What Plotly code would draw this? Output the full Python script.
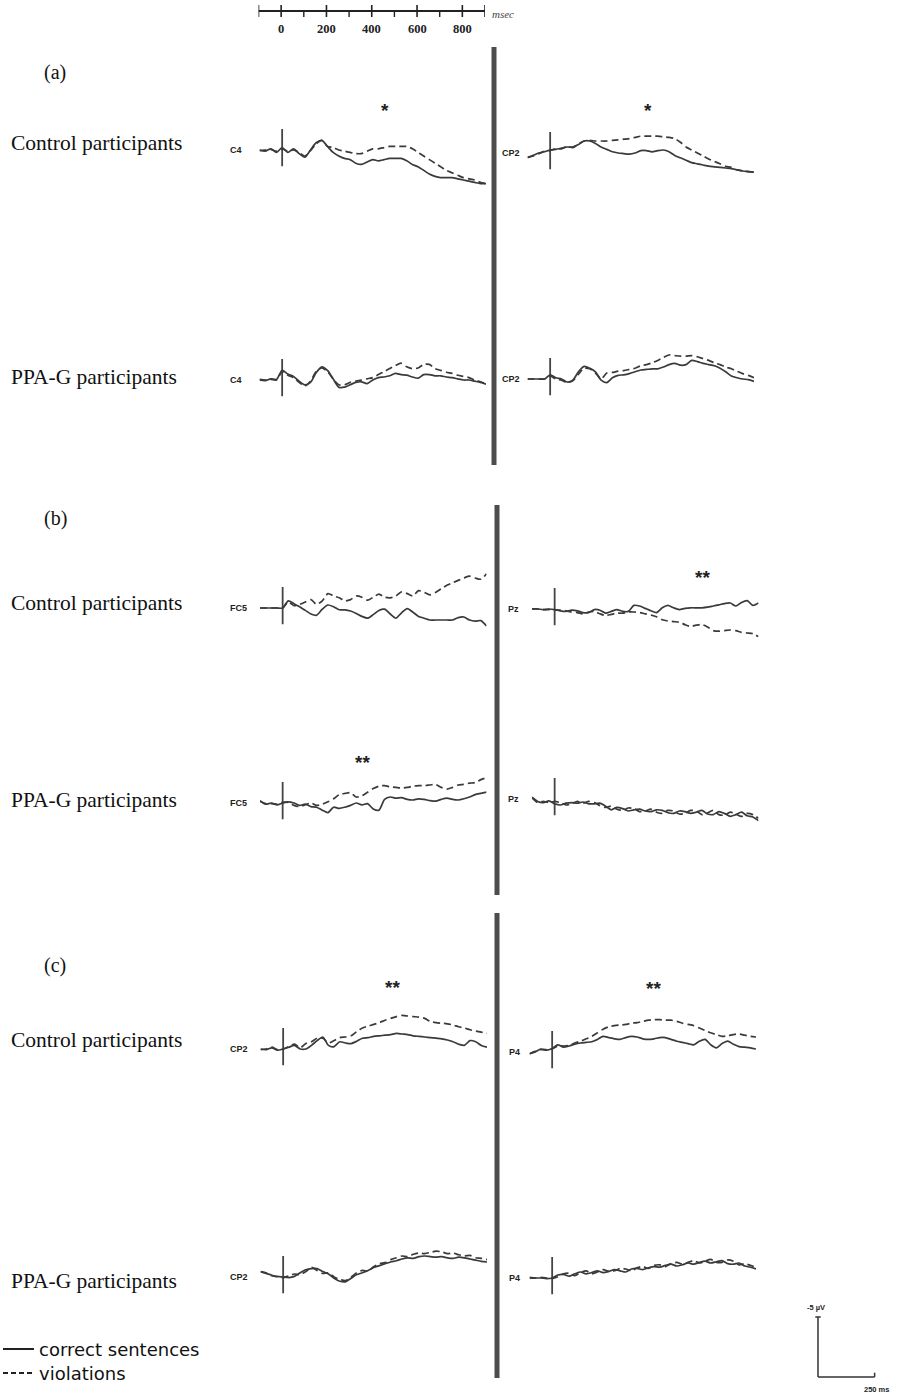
import plotly.graph_objects as go

W, H = 924, 1396

# ---------------- data (µV, negative plotted upward) ----------------
TIME_MS = list(range(-100, 901, 25))

A_C4_CTRL_COR = [0, 0.1, -0.1, 0.2, -0.2, 0.2, -0.1, 0.3, 0.6, 0, -0.6, -0.8, -0.3, 0.2, 0.5, 0.7, 0.8, 1.1, 1.2, 1.0,
                 0.8, 0.9, 0.8, 0.7, 0.7, 0.7, 0.9, 1.2, 1.4, 1.7, 2.0, 2.2, 2.3, 2.3, 2.3, 2.4, 2.5, 2.6, 2.7, 2.8, 2.8]
A_C4_CTRL_VIO = [0.05, 0.0, -0.05, 0.1, -0.1, 0.1, 0.0, 0.2, 0.5, 0.05, -0.5, -0.8,
                 -0.3, -0.2, 0, 0.1, 0.2, 0.3, 0.3, 0.1, -0.1, -0.1, -0.2, -0.3, -0.3, -0.3, -0.3, -0.1, 0.2, 0.5,
                 0.8, 1.1, 1.4, 1.7, 1.9, 2.1, 2.3, 2.4, 2.5, 2.7, 2.8]
A_CP2_CTRL_COR = [0.4, 0.2, 0.0, -0.1, -0.25, -0.3, -0.4, -0.5, -0.5, -0.7, -1.0, -1.0, -0.8, -0.5, -0.3, -0.1, 0.0,
                  0.05, 0.1, 0.0, -0.2, -0.2, -0.1, -0.2, -0.25, -0.1, 0.2, 0.4, 0.6, 0.8, 0.9, 1.0, 1.1, 1.15, 1.2,
                  1.25, 1.3, 1.4, 1.5, 1.55, 1.6]
A_CP2_CTRL_VIO = [0.35, 0.25, 0.05, -0.15, -0.2, -0.35, -0.35, -0.55, -0.45, -0.75, -1.0, -1.05,
                  -1.0, -1.0, -1.0, -1.05, -1.1, -1.15, -1.2, -1.3, -1.4, -1.4, -1.4, -1.4, -1.35, -1.3, -1.2, -0.9,
                  -0.5, -0.25, 0.0, 0.25, 0.5, 0.7, 0.9, 1.1, 1.2, 1.4, 1.5, 1.55, 1.6]
A_C4_PPA_COR = [0.0, 0.05, -0.1, -0.05, -0.8, -0.5, -0.3, 0.1, 0.4, 0.2, -0.6, -1.1, -0.8, -0.1, 0.6, 0.6, 0.4, 0.2,
                0.15, 0.3, 0.0, -0.2, -0.25, -0.35, -0.55, -0.45, -0.4, -0.25, -0.15, -0.45, -0.45, -0.35, -0.35,
                -0.25, -0.2, -0.1, 0.0, 0.0, 0.1, 0.2, 0.35]
A_C4_PPA_VIO = [-0.05, 0.0, -0.05, 0.0, -0.7, -0.4, -0.2, 0.2, 0.5, 0.1, -0.7, -1.0, -0.7,
                -0.1, 0.4, 0.4, 0.2, 0.1, 0.0, -0.1, -0.2, -0.45, -0.7, -0.95, -1.2, -1.4, -1.1, -0.95, -1.0, -1.3,
                -1.3, -0.95, -0.8, -0.65, -0.55, -0.4, -0.3, -0.2, 0.0, 0.15, 0.3]
A_CP2_PPA_COR = [0, 0, 0, 0, -0.35, -0.1, 0.0, 0.25, 0.1, -0.6, -1.05, -0.9, -0.6, 0.1, 0.3, -0.1, -0.3, -0.35,
                 -0.45, -0.6, -0.75, -0.8, -0.85, -0.85, -1.0, -1.2, -1.3, -1.15, -1.2, -1.55, -1.45, -1.3, -1.2,
                 -1.1, -0.9, -0.6, -0.25, -0.1, 0.0, 0.05, 0.2]
A_CP2_PPA_VIO = [0.0, 0.0, 0.0, 0.0, -0.25, 0.0, 0.1, 0.3, 0.15,
                 -0.4, -0.9, -0.85, -0.5, 0.0, -0.5, -0.55, -0.65, -0.7, -0.8, -0.9, -1.1, -1.2, -1.35, -1.55, -1.8,
                 -2.0, -1.95, -1.9, -1.9, -1.95, -1.85, -1.7, -1.55, -1.35, -1.2, -1.0, -0.85, -0.65, -0.45, -0.3, -0.1]

B_FC5_CTRL_COR = [0, 0, 0, 0, 0, -0.6, -0.35, -0.1, 0.2, 0.5, 0.6, 0.1, -0.25, -0.1, 0.15, 0.15, 0.25, 0.45, 0.7,
                  0.85, 0.55, 0.2, 0.1, 0.5, 0.85, 0.4, 0.05, 0.35, 0.7, 0.85, 1.0, 1.0, 1.0, 1.0, 1.0, 0.8, 0.75,
                  1.0, 1.1, 1.05, 1.5]
B_FC5_CTRL_VIO = [0, 0, 0, 0, 0, -0.5, -0.2,
                  -0.3, -0.5, -0.7, -0.3, -0.6, -1.2, -1.0, -0.85, -0.6, -0.7, -1.0, -0.9, -0.65, -0.9, -1.15, -0.9,
                  -0.85, -1.0, -1.35, -1.2, -1.0, -1.45, -1.3, -1.1, -1.3, -1.6, -1.9, -2.1, -2.3, -2.5, -2.65, -2.5,
                  -2.4, -2.85]
B_PZ_CTRL_COR = [0, 0, 0.05, 0, 0.05, 0.15, 0.2, 0.1, 0.15, 0.3, 0.3, 0.05, 0.1, 0.35, 0.2, 0.05, 0.2, 0.2, -0.3,
                 -0.25, -0.05, 0.15, 0.3, -0.1, -0.3, -0.1, 0.05, -0.05, -0.1, -0.1, -0.1, -0.15, -0.25, -0.35,
                 -0.45, -0.5, -0.25, -0.55, -0.7, -0.3, -0.5]
B_PZ_CTRL_VIO = [0.0, 0.0, 0.05,
                 0.05, 0.1, 0.1, 0.15, 0.25, 0.3, 0.4, 0.25, 0.2, 0.4, 0.55, 0.45, 0.35, 0.35, 0.25, 0.25, 0.3, 0.4,
                 0.5, 0.65, 0.9, 1.0, 1.05, 1.1, 1.3, 1.45, 1.35, 1.3, 1.5, 1.8, 1.85, 1.8, 1.75, 1.8, 1.95, 2.0,
                 2.05, 2.3]
B_FC5_PPA_COR = [-0.2, 0.1, 0.0, 0.15, 0.0, -0.1, 0.0, 0.2, 0.1, 0.3, 0.35, 0.6, 0.8, 0.35, 0.45, 0.35, 0.2, 0.0,
                 0.15, 0.05, 0.5, 0.6, -0.3, -0.5, -0.4, -0.45, -0.3, -0.25, -0.35, -0.3, -0.2, -0.15, -0.3, -0.4,
                 -0.3, -0.25, -0.35, -0.5, -0.7, -0.8, -0.9]
B_FC5_PPA_VIO = [-0.15, 0.05, 0.05, 0.1, -0.05, -0.05,
                 0.2, 0.3, 0.15, 0.0, 0.2, 0.1, -0.1, -0.35, -0.7, -0.8, -0.85, -0.5, -0.6, -0.9, -1.2, -1.4, -1.45,
                 -1.35, -1.3, -1.25, -1.3, -1.4, -1.45, -1.45, -1.5, -1.55, -1.3, -1.15, -1.3, -1.5, -1.55, -1.65,
                 -1.7, -1.95, -2.1]
B_PZ_PPA_COR = [-0.15, 0.2, 0.3, 0.15, 0.4, 0.5, 0.35, 0.3, 0.35, 0.25, 0.4, 0.4, 0.35, 0.6, 0.9, 0.7, 0.8, 1.0,
                0.9, 0.85, 1.0, 1.05, 0.9, 0.95, 1.15, 1.2, 1.0, 1.05, 1.2, 1.1, 0.95, 1.25, 1.3, 1.05, 1.2, 1.45,
                1.3, 1.1, 1.4, 1.5, 1.8]
B_PZ_PPA_VIO = [-0.1, 0.3, 0.2, 0.3, 0.2, 0.3, 0.5, 0.4, 0.2, 0.35, 0.2, 0.3, 0.55, 0.7, 0.6, 0.85, 0.95, 0.75,
                0.8, 1.05, 1.0, 0.85, 1.1, 1.2, 0.95, 1.0, 1.25, 1.2, 0.95, 1.0, 1.3, 1.15, 0.95, 1.3, 1.35, 1.1,
                1.25, 1.45, 1.2, 1.3, 1.6]

C_CP2_CTRL_COR = [0, 0.05, -0.1, 0.1, 0, -0.15, -0.3, 0.0, 0.0, -0.3, -0.7, -1.0, -0.3, -0.2, -0.6, -0.5, -0.45,
                  -0.65, -0.9, -0.95, -1.05, -1.1, -1.15, -1.2, -1.3, -1.25, -1.2, -1.1, -1.05, -1.0, -0.95, -0.9,
                  -0.85, -0.75, -0.6, -0.4, -0.3, -0.7, -0.6, -0.3, -0.15]
C_CP2_CTRL_VIO = [0.05, 0.0, -0.15, 0.05, 0.0, -0.2, -0.4, -0.1,
                  -0.45, -0.6, -0.9, -0.9, -0.5, -0.7, -0.95, -1.0, -1.1, -1.45, -1.75, -1.9, -2.05, -2.2, -2.4,
                  -2.55, -2.7, -2.8, -2.75, -2.7, -2.65, -2.55, -2.3, -2.2, -2.15, -2.1, -2.0, -1.85, -1.75, -1.6,
                  -1.5, -1.4, -1.3]
C_P4_CTRL_COR = [0.15, 0.0, -0.25, -0.15, -0.3, -0.6, -0.4, -0.5, -0.65, -0.75, -0.8, -0.85, -1.05, -1.3, -1.2,
                 -1.1, -1.05, -1.2, -1.3, -1.25, -1.1, -1.05, -1.1, -1.2, -1.2, -1.05, -0.9, -0.8, -0.7, -0.6, -0.9,
                 -1.05, -0.6, -0.35, -0.7, -0.9, -0.65, -0.45, -0.4, -0.35, -0.25]
C_P4_CTRL_VIO = [0.15, -0.05, -0.2, -0.2, -0.25, -0.5, -0.5, -0.55,
                 -0.75, -0.9, -1.1, -1.3, -1.6, -1.9, -2.1, -2.2, -2.25, -2.3, -2.4, -2.45, -2.55, -2.65, -2.7, -2.7,
                 -2.65, -2.65, -2.55, -2.4, -2.3, -2.2, -2.0, -1.8, -1.6, -1.45, -1.3, -1.35, -1.45, -1.5, -1.4,
                 -1.3, -1.25]
C_CP2_PPA_COR = [-0.45, -0.3, -0.15, -0.05, 0, 0.05, -0.05, -0.35, -0.6, -0.7, -0.7, -0.45, -0.25, 0.1, 0.35, 0.4,
                 0.1, -0.2, -0.35, -0.55, -0.8, -0.95, -1.1, -1.25, -1.35, -1.5, -1.6, -1.55, -1.7, -1.75, -1.7,
                 -1.65, -1.7, -1.6, -1.55, -1.65, -1.6, -1.5, -1.4, -1.3, -1.25]
C_CP2_PPA_VIO = [-0.45, -0.35, -0.1, 0.0, 0.05, -0.1, -0.25, -0.2, -0.45, -0.8, -0.55, -0.3, -0.35, 0.0, 0.2, 0.3,
                 0.0, -0.35, -0.55, -0.5, -0.85, -1.1, -1.2, -1.45, -1.6, -1.75, -1.7, -1.9, -2.0, -1.95, -2.05,
                 -2.15, -2.1, -1.95, -2.0, -1.85, -1.75, -1.8, -1.6, -1.55, -1.45]
C_P4_PPA_COR = [-0.05, 0.0, 0.0, 0.05, 0.0, -0.25, -0.3, -0.15, -0.35, -0.5, -0.35, -0.45, -0.6, -0.45, -0.55,
                -0.7, -0.6, -0.5, -0.75, -0.8, -0.7, -0.85, -0.95, -0.9, -1.05, -1.15, -1.0, -1.1, -1.25, -1.15,
                -1.3, -1.4, -1.25, -1.35, -1.45, -1.2, -1.15, -1.25, -1.0, -0.9, -0.75]
C_P4_PPA_VIO = [0.0, 0.0, -0.05, 0.0, 0.05, -0.1, -0.35, -0.4, -0.2, -0.45, -0.6, -0.35, -0.5, -0.7, -0.55, -0.6,
                -0.8, -0.75, -0.6, -0.85, -0.95, -0.8, -1.05, -1.1, -0.95, -1.2, -1.3, -1.15, -1.3, -1.45, -1.25,
                -1.4, -1.55, -1.3, -1.3, -1.5, -1.4, -1.1, -1.2, -1.05, -0.9]

ONSET_SPAN_UV = [-1.75, 1.35]
RULER_MAJOR = [-100, 0, 200, 400, 600, 800, 900]
RULER_MINOR = [100, 300, 500, 700]
RULER_LABELS = [0, 200, 400, 600, 800]
SCALE_UV = -5
SCALE_MS = 250
LEGEND_LABELS = ["correct sentences", "violations"]

SECTIONS = [("(a)", 72), ("(b)", 518), ("(c)", 966)]
GROUP_LABELS = [("Control participants", 143), ("PPA-G participants", 377),
                ("Control participants", 603), ("PPA-G participants", 800),
                ("Control participants", 1040), ("PPA-G participants", 1281)]

# ---------------- layout geometry ----------------
PX_PER_MS = 0.2265
PX_PER_UV = 12.0
HALF_PX = 80
SPAN_PX = PX_PER_MS * (TIME_MS[-1] - TIME_MS[0])
LEFT_LABEL_PX, RIGHT_LABEL_PX = 228, 503

panels = [
    dict(ch="C4", cor=A_C4_CTRL_COR, vio=A_C4_CTRL_VIO, x0=259.5, base=150, lab=LEFT_LABEL_PX, star=("*", 455, -3.3)),
    dict(ch="CP2", cor=A_CP2_CTRL_COR, vio=A_CP2_CTRL_VIO, x0=527.5, base=153, lab=RIGHT_LABEL_PX - 3, star=("*", 433, -3.5)),
    dict(ch="C4", cor=A_C4_PPA_COR, vio=A_C4_PPA_VIO, x0=259.5, base=380, lab=LEFT_LABEL_PX, star=None),
    dict(ch="CP2", cor=A_CP2_PPA_COR, vio=A_CP2_PPA_VIO, x0=527.5, base=379, lab=RIGHT_LABEL_PX - 3, star=None),
    dict(ch="FC5", cor=B_FC5_CTRL_COR, vio=B_FC5_CTRL_VIO, x0=260, base=608, lab=LEFT_LABEL_PX, star=None),
    dict(ch="Pz", cor=B_PZ_CTRL_COR, vio=B_PZ_CTRL_VIO, x0=532, base=609, lab=RIGHT_LABEL_PX + 3, star=("**", 653, -2.6)),
    dict(ch="FC5", cor=B_FC5_PPA_COR, vio=B_FC5_PPA_VIO, x0=260, base=803, lab=LEFT_LABEL_PX, star=("**", 353, -3.4)),
    dict(ch="Pz", cor=B_PZ_PPA_COR, vio=B_PZ_PPA_VIO, x0=532, base=799, lab=RIGHT_LABEL_PX + 3, star=None),
    dict(ch="CP2", cor=C_CP2_CTRL_COR, vio=C_CP2_CTRL_VIO, x0=260.5, base=1049, lab=LEFT_LABEL_PX, star=("**", 481, -5.1)),
    dict(ch="P4", cor=C_P4_CTRL_COR, vio=C_P4_CTRL_VIO, x0=529.5, base=1052, lab=RIGHT_LABEL_PX + 4, star=("**", 446, -5.3)),
    dict(ch="CP2", cor=C_CP2_PPA_COR, vio=C_CP2_PPA_VIO, x0=260.5, base=1277, lab=LEFT_LABEL_PX, star=None),
    dict(ch="P4", cor=C_P4_PPA_COR, vio=C_P4_PPA_VIO, x0=529.5, base=1278, lab=RIGHT_LABEL_PX + 4, star=None),
]

LINE_COLOR = "#3a3a3a"
SERIF = "Liberation Serif, Times New Roman, serif"
SANS = "Liberation Sans, Arial, sans-serif"
KEY_FONT = "DejaVu Sans, Liberation Sans, sans-serif"


def ax_names(i):
    return ("x" if i == 1 else f"x{i}", "y" if i == 1 else f"y{i}",
            "xaxis" if i == 1 else f"xaxis{i}", "yaxis" if i == 1 else f"yaxis{i}")


fig = go.Figure()
axes = {}
ann = []

for i, p in enumerate(panels, start=1):
    xa, ya, xk, yk = ax_names(i)
    r = HALF_PX / PX_PER_UV
    axes[xk] = dict(domain=[p["x0"] / W, (p["x0"] + SPAN_PX) / W], range=[TIME_MS[0], TIME_MS[-1]],
                    visible=False, anchor=ya, fixedrange=True)
    axes[yk] = dict(domain=[1 - (p["base"] + HALF_PX) / H, 1 - (p["base"] - HALF_PX) / H], range=[r, -r],
                    visible=False, anchor=xa, fixedrange=True)
    fig.add_trace(go.Scatter(x=[0, 0], y=ONSET_SPAN_UV, xaxis=xa, yaxis=ya, mode="lines",
                             line=dict(color="#444444", width=1.8), showlegend=False, hoverinfo="skip"))
    fig.add_trace(go.Scatter(x=TIME_MS, y=p["cor"], xaxis=xa, yaxis=ya, mode="lines",
                             line=dict(color=LINE_COLOR, width=1.7, shape="spline", smoothing=0.7),
                             name=LEGEND_LABELS[0], showlegend=False))
    fig.add_trace(go.Scatter(x=TIME_MS, y=p["vio"], xaxis=xa, yaxis=ya, mode="lines",
                             line=dict(color=LINE_COLOR, width=1.7, dash="7px,4px", shape="spline", smoothing=0.7),
                             name=LEGEND_LABELS[1], showlegend=False))
    ann.append(dict(xref=xa, yref=ya, x=TIME_MS[0], y=0, xanchor="left", yanchor="middle",
                    xshift=p["lab"] - p["x0"], text=f"<b>{p['ch']}</b>", showarrow=False,
                    font=dict(family=SANS, size=9, color="#222")))
    if p["star"]:
        s, t, v = p["star"]
        ann.append(dict(xref=xa, yref=ya, x=t, y=v, xanchor="center", yanchor="middle", text=f"<b>{s}</b>",
                        showarrow=False, font=dict(family=SANS, size=19, color="#222")))

# ---- top time ruler ----
i = len(panels) + 1
xa, ya, xk, yk = ax_names(i)
RULER_X0, RULER_Y0 = 258.5, 11
axes[xk] = dict(domain=[RULER_X0 / W, (RULER_X0 + SPAN_PX) / W], range=[TIME_MS[0], TIME_MS[-1]],
                visible=False, anchor=ya, fixedrange=True)
axes[yk] = dict(domain=[1 - (RULER_Y0 + 26) / H, 1 - (RULER_Y0 - 10) / H], range=[2.6, -1.0],
                visible=False, anchor=xa, fixedrange=True)
fig.add_trace(go.Scatter(x=[RULER_MAJOR[0], RULER_MAJOR[-1]], y=[0, 0], xaxis=xa, yaxis=ya, mode="lines",
                         line=dict(color="#222", width=2), showlegend=False, hoverinfo="skip"))
mx, my = [], []
for t in RULER_MAJOR:
    mx += [t, t, None]
    my += [-0.6, 0.6, None]
fig.add_trace(go.Scatter(x=mx, y=my, xaxis=xa, yaxis=ya, mode="lines", line=dict(color="#222", width=1.6),
                         showlegend=False, hoverinfo="skip"))
nx, ny = [], []
for t in RULER_MINOR:
    nx += [t, t, None]
    ny += [0, 0.6, None]
fig.add_trace(go.Scatter(x=nx, y=ny, xaxis=xa, yaxis=ya, mode="lines", line=dict(color="#222", width=1.4),
                         showlegend=False, hoverinfo="skip"))
for t in RULER_LABELS:
    ann.append(dict(xref=xa, yref=ya, x=t, y=1.75, text=f"<b>{t}</b>", showarrow=False, xanchor="center",
                    yanchor="middle", font=dict(family=SERIF, size=12.5, color="#222")))
ann.append(dict(xref=xa, yref=ya, x=RULER_MAJOR[-1], y=0.3, text="<i>msec</i>", showarrow=False,
                xanchor="left", yanchor="middle", xshift=5, font=dict(family=SERIF, size=11, color="#444")))

# ---- calibration bar ----
i += 1
xa, ya, xk, yk = ax_names(i)
CAL_X0, CAL_Y0 = 818, 1377
axes[xk] = dict(domain=[(CAL_X0 - 20) / W, (CAL_X0 + PX_PER_MS * 400) / W], range=[-20 / PX_PER_MS, 400],
                visible=False, anchor=ya, fixedrange=True)
axes[yk] = dict(domain=[1 - (CAL_Y0 + PX_PER_UV * 1.5) / H, 1 - (CAL_Y0 - PX_PER_UV * 6.5) / H], range=[1.5, -6.5],
                visible=False, anchor=xa, fixedrange=True)
fig.add_trace(go.Scatter(x=[0, 0, None, 0, SCALE_MS, None, -12, 12, None, SCALE_MS, SCALE_MS],
                         y=[0, SCALE_UV, None, 0, 0, None, SCALE_UV, SCALE_UV, None, 0, -0.35],
                         xaxis=xa, yaxis=ya, mode="lines", line=dict(color="#333", width=1.5),
                         showlegend=False, hoverinfo="skip"))
ann.append(dict(xref=xa, yref=ya, x=0, y=SCALE_UV, text="<b>-5 µV</b>", showarrow=False, xanchor="center",
                yanchor="bottom", yshift=3, xshift=-2, font=dict(family=SANS, size=7.5, color="#222")))
ann.append(dict(xref=xa, yref=ya, x=SCALE_MS, y=0, text="<b>250 ms</b>", showarrow=False, xanchor="center",
                yanchor="top", yshift=-6, xshift=2, font=dict(family=SANS, size=7.5, color="#222")))

# ---- key (legend) ----
i += 1
xa, ya, xk, yk = ax_names(i)
KEY_ROWS_PX = [1349, 1373]
axes[xk] = dict(domain=[0, 260 / W], range=[0, 260], visible=False, anchor=ya, fixedrange=True)
axes[yk] = dict(domain=[0, 1 - 1330 / H], range=[H, 1330], visible=False, anchor=xa, fixedrange=True)
for k, (label, dash) in enumerate(zip(LEGEND_LABELS, ["solid", "5px,3px"])):
    fig.add_trace(go.Scatter(x=[3, 34], y=[KEY_ROWS_PX[k]] * 2, xaxis=xa, yaxis=ya, mode="lines",
                             line=dict(color="#222", width=2, dash=dash), showlegend=False, hoverinfo="skip"))
    ann.append(dict(xref=xa, yref=ya, x=37, y=KEY_ROWS_PX[k], text=label, showarrow=False, xanchor="left",
                    yanchor="middle", font=dict(family=KEY_FONT, size=18, color="#111")))

# ---- text labels ----
for txt, ypx in SECTIONS:
    ann.append(dict(xref="paper", yref="paper", x=42 / W, y=1 - ypx / H, text=txt, showarrow=False,
                    xanchor="left", yanchor="middle", font=dict(family=SERIF, size=20, color="#111")))
for txt, ypx in GROUP_LABELS:
    ann.append(dict(xref="paper", yref="paper", x=9 / W, y=1 - ypx / H, text=txt, showarrow=False,
                    xanchor="left", yanchor="middle", font=dict(family=SERIF, size=21.5, color="#111")))

# ---- divider bars ----
BARS = [(494, 47, 465), (497, 505, 895), (497, 913, 1378)]
shapes = [dict(type="line", xref="paper", yref="paper", x0=x / W, x1=x / W, y0=1 - y0 / H, y1=1 - y1 / H,
               line=dict(color="#4d4d4d", width=5)) for x, y0, y1 in BARS]

fig.update_layout(
    width=W, height=H, margin=dict(l=0, r=0, t=0, b=0),
    paper_bgcolor="white", plot_bgcolor="white",
    annotations=ann, shapes=shapes, showlegend=False,
    **axes,
)

fig.write_html("out.html", config={"displayModeBar": False, "staticPlot": True},
               post_script="document.body.style.margin='0';document.body.style.overflow='hidden';")
